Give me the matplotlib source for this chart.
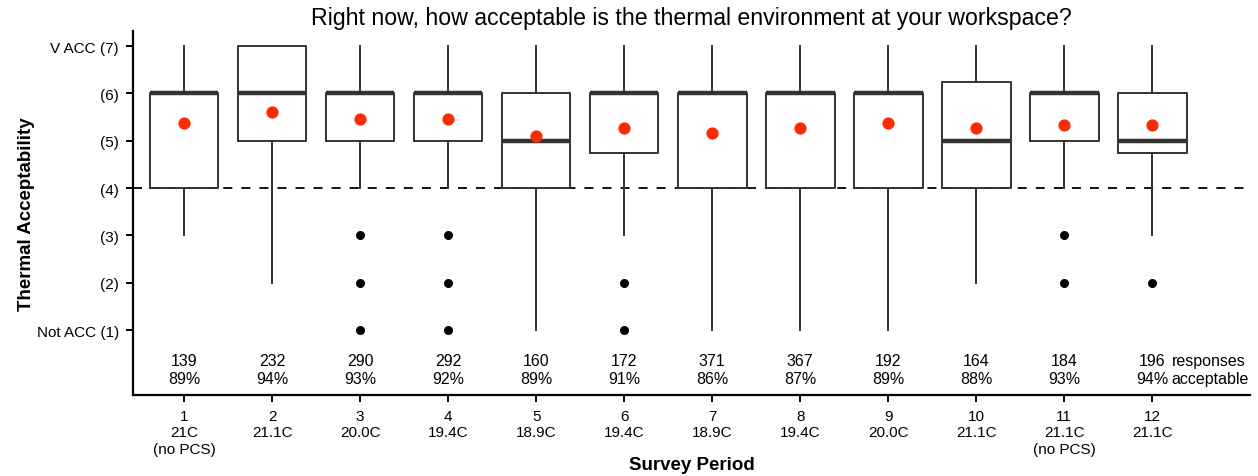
import matplotlib
matplotlib.use("Agg")
import matplotlib.pyplot as plt

plt.rcParams['font.family'] = ['Liberation Sans', 'DejaVu Sans']

periods = [1, 2, 3, 4, 5, 6, 7, 8, 9, 10, 11, 12]
setpoints = ["21C\n(no PCS)", "21.1C", "20.0C", "19.4C", "18.9C", "19.4C",
             "18.9C", "19.4C", "20.0C", "21.1C", "21.1C\n(no PCS)", "21.1C"]
q1 = [4, 5, 5, 5, 4, 4.75, 4, 4, 4, 4, 5, 4.75]
median = [6, 6, 6, 6, 5, 6, 6, 6, 6, 5, 6, 5]
q3 = [6, 7, 6, 6, 6, 6, 6, 6, 6, 6.25, 6, 6]
whisk_lo = [3, 2, 4, 4, 1, 3, 1, 1, 1, 2, 4, 3]
whisk_hi = [7, 7, 7, 7, 7, 7, 7, 7, 7, 7, 7, 7]
outliers = [[], [], [3, 2, 1], [3, 2, 1], [], [2, 1], [], [], [], [], [3, 2], [2]]
means = [5.38, 5.61, 5.46, 5.46, 5.10, 5.28, 5.16, 5.28, 5.38, 5.27, 5.34, 5.33]
responses = [139, 232, 290, 292, 160, 172, 371, 367, 192, 164, 184, 196]
acceptable = [89, 94, 93, 92, 89, 91, 86, 87, 89, 88, 93, 94]
ytick_vals = [1, 2, 3, 4, 5, 6, 7]
ytick_labels = ["Not ACC (1)", "(2)", "(3)", "(4)", "(5)", "(6)", "V ACC (7)"]

fig = plt.figure(figsize=(12.58, 4.77), dpi=100)
ax = fig.add_axes([133/1258, 1-396/477, (1250-133)/1258, (396-32)/477])

stats = []
for i in range(len(periods)):
    stats.append(dict(q1=q1[i], med=median[i], q3=q3[i], whislo=whisk_lo[i],
                      whishi=whisk_hi[i], fliers=outliers[i], label=str(periods[i])))

ax.axhline(4, color='black', lw=1.3, ls=(0, (5, 5)), zorder=1)

lc = '#333333'
ax.bxp(stats, positions=periods, widths=0.78, showcaps=False, showfliers=True,
       boxprops=dict(color=lc, lw=1.4),
       whiskerprops=dict(color=lc, lw=1.4),
       medianprops=dict(color=lc, lw=3.2, solid_capstyle='butt'),
       flierprops=dict(marker='o', markerfacecolor='black', markeredgecolor='black', markersize=5.5),
       manage_ticks=False, zorder=2)

ax.plot(periods, means, 'o', color='#ff2a00', markersize=8.8, zorder=3, markeredgewidth=0)

fs = 11.5
for p, r, a in zip(periods, responses, acceptable):
    ax.text(p, 0.35, str(r), ha='center', va='center', fontsize=fs)
    ax.text(p, -0.03, f"{a}%", ha='center', va='center', fontsize=fs)
ax.text(12.22, 0.35, "responses", ha='left', va='center', fontsize=fs)
ax.text(12.22, -0.03, "acceptable", ha='left', va='center', fontsize=fs)

ax.set_xlim(0.42, 13.11)
ax.set_ylim(-0.373, 7.32)
ax.set_yticks(ytick_vals)
ax.set_yticklabels(ytick_labels, fontsize=11)
ax.set_xticks(periods)
ax.set_xticklabels([f"{p}\n{s}" for p, s in zip(periods, setpoints)], fontsize=11, linespacing=1.22)
ax.tick_params(axis='both', length=5, width=1.4, color='black')
ax.tick_params(axis='x', pad=5)
ax.tick_params(axis='y', pad=5)

for s in ['top', 'right']:
    ax.spines[s].set_visible(False)
for s in ['left', 'bottom']:
    ax.spines[s].set_linewidth(1.6)

ax.set_ylabel("Thermal Acceptability", fontsize=13.5, fontweight='bold', labelpad=1)
ax.set_xlabel("Survey Period", fontsize=13.5, fontweight='bold', labelpad=0)
ax.set_title("Right now, how acceptable is the thermal environment at your workspace?", fontsize=16.7, pad=5)

fig.savefig("out.png", dpi=100)
